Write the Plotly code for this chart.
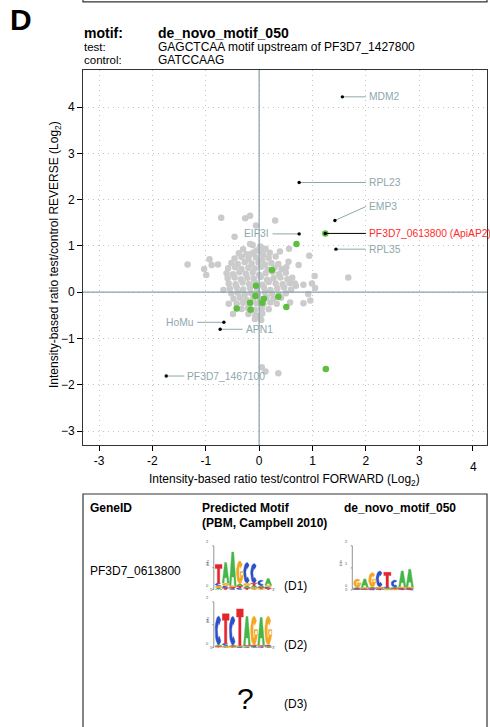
import math
import plotly.graph_objects as go

W, H = 490, 727
FONT = "Liberation Sans, Arial, sans-serif"

# ---------------- scatter data: log2 ratios (forward, reverse) ----------------
bg_x = [
    -0.71, -0.26, -0.17, 0.30, -0.06, -0.46, 0.56, 0.39, 0.94, 0.03, -1.34, -0.93, -0.89, -0.77,
    -1.03, -0.99, 0.55, 0.51, 1.04, 1.67, 0.99, 0.69, 1.05, 0.96, 0.58, -0.57, -0.49, 0.02,
    0.05, 0.12, 0.36, -0.17, -0.15, 0.05, 0.74, 0.83, 0.67, 0.92, 0.83, -0.67,
    -0.12, 0.02,
    -0.30, -0.05, 0.12,
    -0.38, -0.24, -0.10, 0.08, 0.20,
    -0.46, -0.33, -0.20, -0.06, 0.06, 0.18, 0.31,
    -0.52, -0.40, -0.27, -0.14, -0.01, 0.11, 0.23, 0.36,
    -0.58, -0.45, -0.33, -0.20, -0.08, 0.04, 0.16, 0.29, 0.42,
    -0.61, -0.49, -0.37, -0.25, -0.12, 0.00, 0.12, 0.25, 0.37, 0.50,
    -0.59, -0.46, -0.34, -0.22, -0.10, 0.03, 0.15, 0.27, 0.40, 0.53, 0.62,
    -0.57, -0.44, -0.31, -0.19, -0.07, 0.06, 0.18, 0.31, 0.44, 0.57,
    -0.55, -0.42, -0.30, -0.17, -0.04, 0.09, 0.21, 0.34, 0.47, 0.60,
    -0.52, -0.40, -0.27, -0.15, -0.02, 0.11, 0.24, 0.37, 0.50,
    -0.48, -0.36, -0.24, -0.11, 0.02, 0.14, 0.27, 0.41,
    -0.42, -0.30, -0.18, -0.05, 0.08, 0.21, 0.33,
    -0.33, -0.21, -0.08, 0.05, 0.18,
    -0.20, -0.07, 0.06,
    -0.08, 0.04,
]
bg_y = [
    1.61, 1.60, 1.65, 1.55, 1.44, 1.20, 0.94, 0.88, 0.79, 0.88, 0.60, 0.71, 0.59, 0.60,
    0.50, 0.37, 0.66, 0.54, 0.35, 0.32, 0.19, 0.14, 0.09, -0.18, -0.22, -0.25, -0.47, -0.51,
    -1.62, -1.71, -1.75, 1.04, 0.83, 0.88, 0.59, 0.16, 0.19, -0.04, -0.24, 0.05,
    1.02, 0.99,
    0.93, 0.90, 0.94,
    0.84, 0.82, 0.86, 0.81, 0.85,
    0.73, 0.76, 0.72, 0.75, 0.71, 0.74, 0.77,
    0.63, 0.61, 0.65, 0.62, 0.64, 0.60, 0.63, 0.61,
    0.52, 0.54, 0.50, 0.53, 0.51, 0.55, 0.49, 0.53, 0.50,
    0.41, 0.39, 0.43, 0.40, 0.42, 0.38, 0.41, 0.44, 0.39, 0.42,
    0.30, 0.32, 0.28, 0.31, 0.29, 0.33, 0.27, 0.30, 0.32, 0.28, 0.31,
    0.19, 0.17, 0.21, 0.18, 0.20, 0.16, 0.22, 0.19, 0.17, 0.20,
    0.08, 0.10, 0.06, 0.09, 0.07, 0.11, 0.05, 0.08, 0.10, 0.06,
    -0.03, -0.01, -0.05, -0.02, -0.04, 0.00, -0.03, -0.06, -0.02,
    -0.14, -0.12, -0.16, -0.13, -0.15, -0.11, -0.14, -0.12,
    -0.25, -0.23, -0.27, -0.24, -0.26, -0.22, -0.25,
    -0.36, -0.34, -0.38, -0.35, -0.37,
    -0.47, -0.49, -0.46,
    -0.58, -0.60,
]

# proteins enriched with the motif-containing probe
motif_x = [0.70, 0.24, -0.06, -0.07, 0.09, 0.06, 0.36, 0.51, -0.17, -0.42, -0.16, 1.25, 1.24]
motif_y = [1.04, 0.48, 0.14, -0.08, -0.14, -0.23, -0.10, -0.32, -0.23, -0.35, -0.38, -1.66, 1.27]

# named proteins
genes = ["MDM2", "RPL23", "EMP3", "EIF3I", "PF3D7_0613800 (ApiAP2)",
         "RPL35", "HoMu", "APN1", "PF3D7_1467100"]
gene_x = [1.56, 0.75, 1.42, 0.75, 1.24, 1.44, -0.66, -0.73, -1.74]
gene_y = [4.22, 2.37, 1.55, 1.26, 1.27, 0.93, -0.65, -0.80, -1.81]

x_ticks = [-3, -2, -1, 0, 1, 2, 3, 4]
y_ticks = [-3, -2, -1, 0, 1, 2, 3, 4]

# ---------------- sequence logo data (bits per base, per position) ----------------
logo_D1 = [
    {"A": 0.07, "C": 0.12, "G": 0.10, "T": 0.86},
    {"A": 0.95, "C": 0.10, "G": 0.12, "T": 0.07},
    {"A": 1.55, "C": 0.05, "G": 0.07, "T": 0.05},
    {"A": 0.10, "C": 0.08, "G": 1.05, "T": 0.08},
    {"A": 0.10, "C": 0.95, "G": 0.12, "T": 0.07},
    {"A": 0.10, "C": 0.90, "G": 0.09, "T": 0.10},
    {"A": 0.08, "C": 0.25, "G": 0.05, "T": 0.05},
    {"A": 0.30, "C": 0.07, "G": 0.08, "T": 0.05},
]
logo_D2 = [
    {"A": 0.05, "C": 1.25, "G": 0.04, "T": 0.03},
    {"A": 0.07, "C": 0.08, "G": 0.03, "T": 1.30},
    {"A": 0.04, "C": 1.26, "G": 0.03, "T": 0.03},
    {"A": 0.03, "C": 0.02, "G": 0.04, "T": 1.60},
    {"A": 1.27, "C": 0.03, "G": 0.03, "T": 0.03},
    {"A": 0.03, "C": 0.03, "G": 1.27, "T": 0.04},
    {"A": 1.22, "C": 0.03, "G": 0.04, "T": 0.03},
    {"A": 0.03, "C": 0.04, "G": 1.27, "T": 0.03},
]
logo_novo = [
    {"A": 0.05, "C": 0.04, "G": 0.38, "T": 0.03},
    {"A": 0.38, "C": 0.04, "G": 0.05, "T": 0.03},
    {"A": 0.05, "C": 0.04, "G": 0.66, "T": 0.04},
    {"A": 0.05, "C": 0.72, "G": 0.05, "T": 0.04},
    {"A": 0.05, "C": 0.05, "G": 0.04, "T": 0.66},
    {"A": 0.05, "C": 0.32, "G": 0.04, "T": 0.04},
    {"A": 0.72, "C": 0.05, "G": 0.05, "T": 0.04},
    {"A": 0.80, "C": 0.05, "G": 0.05, "T": 0.04},
]

# ---------------- styling ----------------
ZERO_C = "#86a2a8"
LABEL_C = "#8ea8ad"
GRAY_C = "#cbcbcb"
GREEN_C = "#5dbf3d"
RED_C = "#ff2b2b"
FRAME_C = "#333333"
GRID_C = "#c4c4c4"
BASE_C = {"A": "#45b649", "C": "#2b50c8", "G": "#f5a623", "T": "#e4252b"}

# label placement: (x, y, anchor, colour, leader colour)
label_place = {
    "MDM2": (2.0, 4.22, "left", LABEL_C, LABEL_C),
    "RPL23": (2.0, 2.37, "left", LABEL_C, LABEL_C),
    "EMP3": (2.0, 1.85, "left", LABEL_C, LABEL_C),
    "EIF3I": (0.25, 1.26, "right", LABEL_C, LABEL_C),
    "PF3D7_0613800 (ApiAP2)": (2.0, 1.27, "left", RED_C, "#000000"),
    "RPL35": (2.0, 0.93, "left", LABEL_C, LABEL_C),
    "HoMu": (-1.16, -0.65, "right", LABEL_C, LABEL_C),
    "APN1": (-0.31, -0.80, "left", LABEL_C, LABEL_C),
    "PF3D7_1467100": (-1.40, -1.81, "left", LABEL_C, LABEL_C),
}

X_RANGE = [-3.30, 4.27]
Y_RANGE = [-3.30, 4.80]
PLOT_L, PLOT_R, PLOT_T, PLOT_B = 83, 487, 70, 445


def px(x):
    return x / W


def py(y):
    return 1 - y / H


fig = go.Figure()

# background proteins
fig.add_trace(go.Scatter(x=bg_x, y=bg_y, mode="markers",
                         marker=dict(color=GRAY_C, size=6.5, line=dict(width=0)),
                         hoverinfo="skip", showlegend=False))

# zero lines drawn over the grey cloud
fig.add_trace(go.Scatter(x=[X_RANGE[0], X_RANGE[1]], y=[0, 0], mode="lines",
                         line=dict(color=ZERO_C, width=1.2), hoverinfo="skip", showlegend=False))
fig.add_trace(go.Scatter(x=[0, 0], y=[Y_RANGE[0], Y_RANGE[1]], mode="lines",
                         line=dict(color=ZERO_C, width=1.2), hoverinfo="skip", showlegend=False))

# motif binders
fig.add_trace(go.Scatter(x=motif_x, y=motif_y, mode="markers",
                         marker=dict(color=GREEN_C, size=6.5, line=dict(width=0)),
                         hoverinfo="skip", showlegend=False))

# leader lines and labels for named proteins
annotations = []
for name, gx, gy in zip(genes, gene_x, gene_y):
    lx, ly, anchor, tcol, lcol = label_place[name]
    fig.add_trace(go.Scatter(x=[gx, lx], y=[gy, ly], mode="lines",
                             line=dict(color=lcol, width=1), hoverinfo="skip", showlegend=False))
    annotations.append(dict(x=lx, y=ly, xref="x", yref="y", text=name, showarrow=False,
                            xanchor=anchor, yanchor="middle", xshift=1 if anchor == "left" else -1,
                            font=dict(family=FONT, size=10.3, color=tcol)))

fig.add_trace(go.Scatter(x=gene_x, y=gene_y, mode="markers",
                         marker=dict(color="#000000", size=3.4, line=dict(width=0)),
                         hoverinfo="skip", showlegend=False))


# ---------------- sequence logos ----------------
def arc(cx, cy, rx, ry, a0, a1, n=18):
    pts = []
    for i in range(n + 1):
        a = math.radians(a0 + (a1 - a0) * i / n)
        pts.append((cx + rx * math.cos(a), cy + ry * math.sin(a)))
    return pts


def glyph(base):
    """Unit-square outline(s) for a nucleotide letter (v = 0 bottom, 1 top)."""
    if base == "T":
        return [[(0, 1), (1, 1), (1, 0.78), (0.67, 0.78), (0.67, 0), (0.33, 0), (0.33, 0.78),
                 (0, 0.78)]]
    if base == "A":
        return [[(0, 0), (0.36, 1), (0.64, 1), (1, 0), (0.74, 0), (0.66, 0.26),
                 (0.34, 0.26), (0.26, 0)]]
    if base == "C":
        outer = arc(0.5, 0.5, 0.5, 0.5, 48, 312)
        inner = arc(0.5, 0.5, 0.16, 0.26, 312, 48)
        return [outer + inner]
    # G
    outer = arc(0.5, 0.5, 0.5, 0.5, 42, 360)
    inner = arc(0.5, 0.5, 0.16, 0.26, 360, 42)
    bar = [(0.5, 0.54), (1.0, 0.54), (1.0, 0.36), (0.5, 0.36)]
    return [outer + inner, bar]


logo_place = [
    (logo_D1, dict(x0=215.0, base=589.5, col=7.1, bit=21.8)),
    (logo_D2, dict(x0=215.0, base=647.5, col=7.1, bit=22.8)),
    (logo_novo, dict(x0=353.5, base=590.0, col=7.5, bit=22.1)),
]

poly = {b: ([], []) for b in "ACGT"}
axis_lines_x, axis_lines_y = [], []
for logo, g in logo_place:
    for i, col in enumerate(logo):
        x0 = g["x0"] + i * g["col"]
        ybot = g["base"]
        for b, h in sorted(col.items(), key=lambda kv: kv[1]):
            hpx = h * g["bit"]
            for shape in glyph(b):
                for (u, v) in shape:
                    poly[b][0].append(x0 + 0.1 + u * (g["col"] - 0.2))
                    poly[b][1].append(ybot - v * hpx)
                poly[b][0].append(None)
                poly[b][1].append(None)
            ybot -= hpx
        annotations.append(dict(x=px(x0 + g["col"] / 2), y=py(g["base"] + 3.2), xref="paper",
                                yref="paper", text=str(i + 1), showarrow=False,
                                font=dict(family=FONT, size=4, color="#6a7fa0")))
    ax = g["x0"] - 1.2
    axis_lines_x += [ax, ax, None]
    axis_lines_y += [g["base"], g["base"] - 2 * g["bit"], None]
    for k in range(3):
        yk = g["base"] - k * g["bit"]
        axis_lines_x += [ax - 1.5, ax, None]
        axis_lines_y += [yk, yk, None]
        annotations.append(dict(x=px(ax - 2.5), y=py(yk), xref="paper", yref="paper",
                                text=str(k), showarrow=False, xanchor="right",
                                font=dict(family=FONT, size=4, color="#555555")))
    annotations.append(dict(x=px(ax - 6.5), y=py(g["base"] - g["bit"]), xref="paper", yref="paper",
                            text="bits", textangle=-90, showarrow=False,
                            font=dict(family=FONT, size=4, color="#555555")))
    annotations.append(dict(x=px(ax - 2), y=py(g["base"] + 4), xref="paper", yref="paper",
                            text="5'", showarrow=False,
                            font=dict(family=FONT, size=4, color="#555555")))
    annotations.append(dict(x=px(g["x0"] + 8 * g["col"] + 2), y=py(g["base"] + 4), xref="paper",
                            yref="paper", text="3'", showarrow=False,
                            font=dict(family=FONT, size=4, color="#555555")))

fig.add_trace(go.Scatter(x=axis_lines_x, y=axis_lines_y, mode="lines", xaxis="x2", yaxis="y2",
                         line=dict(color="#777777", width=0.8), hoverinfo="skip", showlegend=False))
for b in "ACGT":
    fig.add_trace(go.Scatter(x=poly[b][0], y=poly[b][1], mode="lines", fill="toself",
                             fillcolor=BASE_C[b], line=dict(width=0.4, color=BASE_C[b]),
                             xaxis="x2", yaxis="y2", hoverinfo="skip", showlegend=False))


# ---------------- text ----------------
def txt(x, y, s, size=12, bold=False, anchor="left", color="#000000", **kw):
    if bold:
        s = "<b>" + s + "</b>"
    annotations.append(dict(x=px(x), y=py(y), xref="paper", yref="paper", text=s,
                            showarrow=False, xanchor=anchor, yanchor="middle",
                            font=dict(family=FONT, size=size, color=color), **kw))


txt(21, 19, "D", size=30, bold=True, anchor="center")
txt(82, 33, "motif:", size=14, bold=True)
txt(156, 33, "de_novo_motif_050", size=14, bold=True)
txt(82, 47, "test:", size=11.5)
txt(156, 47, "GAGCTCAA motif upstream of PF3D7_1427800", size=12)
txt(82, 59.5, "control:", size=11.5)
txt(156, 59.5, "GATCCAAG", size=12)

# axis titles
txt(284, 480, "Intensity-based ratio test/control FORWARD (Log<sub>2</sub>)", size=12,
    anchor="center")
txt(55, 255, "Intensity-based ratio test/control REVERSE (Log<sub>2</sub>)", size=12,
    anchor="center", textangle=-90)
txt(473, 467, "4", size=12, anchor="center")

# table box
txt(88, 508, "GeneID", size=12, bold=True)
txt(200, 508, "Predicted Motif", size=12, bold=True)
txt(200, 523, "(PBM, Campbell 2010)", size=12, bold=True)
txt(342, 508, "de_novo_motif_050", size=12, bold=True)
txt(88, 571, "PF3D7_0613800", size=12)
txt(282, 586, "(D1)", size=12)
txt(282, 645, "(D2)", size=12)
txt(245, 698, "?", size=30, anchor="center")
txt(282, 704, "(D3)", size=12)

shapes = [
    dict(type="rect", xref="paper", yref="paper", x0=px(83), x1=px(487), y0=py(1.8), y1=py(-10),
         line=dict(color=FRAME_C, width=1.2)),
    dict(type="rect", xref="paper", yref="paper", x0=px(83), x1=px(487), y0=py(494), y1=py(740),
         line=dict(color=FRAME_C, width=1.2)),
]

ticktext_x = [str(v) if v != 4 else " " for v in x_ticks]

fig.update_layout(
    width=W, height=H, margin=dict(l=0, r=0, t=0, b=0),
    paper_bgcolor="white", plot_bgcolor="rgba(0,0,0,0)",
    showlegend=False,
    annotations=annotations, shapes=shapes,
    xaxis=dict(domain=[px(PLOT_L), px(PLOT_R)], range=X_RANGE, tickvals=x_ticks,
               ticktext=ticktext_x, ticks="outside", ticklen=5, tickwidth=1, tickcolor="#000",
               showline=True, mirror=True, linecolor=FRAME_C, linewidth=1,
               showgrid=True, gridcolor=GRID_C, griddash="1px,4px", gridwidth=1,
               zeroline=False, automargin=False,
               tickfont=dict(family=FONT, size=12, color="#000")),
    yaxis=dict(domain=[py(PLOT_B), py(PLOT_T)], range=Y_RANGE, tickvals=y_ticks,
               ticks="outside", ticklen=5, tickwidth=1, tickcolor="#000",
               showline=True, mirror=True, linecolor=FRAME_C, linewidth=1,
               showgrid=True, gridcolor=GRID_C, griddash="1px,4px", gridwidth=1,
               zeroline=False, automargin=False,
               tickfont=dict(family=FONT, size=12, color="#000")),
    xaxis2=dict(domain=[0, 1], range=[0, W], visible=False, fixedrange=True),
    yaxis2=dict(domain=[0, 1], range=[H, 0], visible=False, fixedrange=True),
)

fig.write_html("out.html")
